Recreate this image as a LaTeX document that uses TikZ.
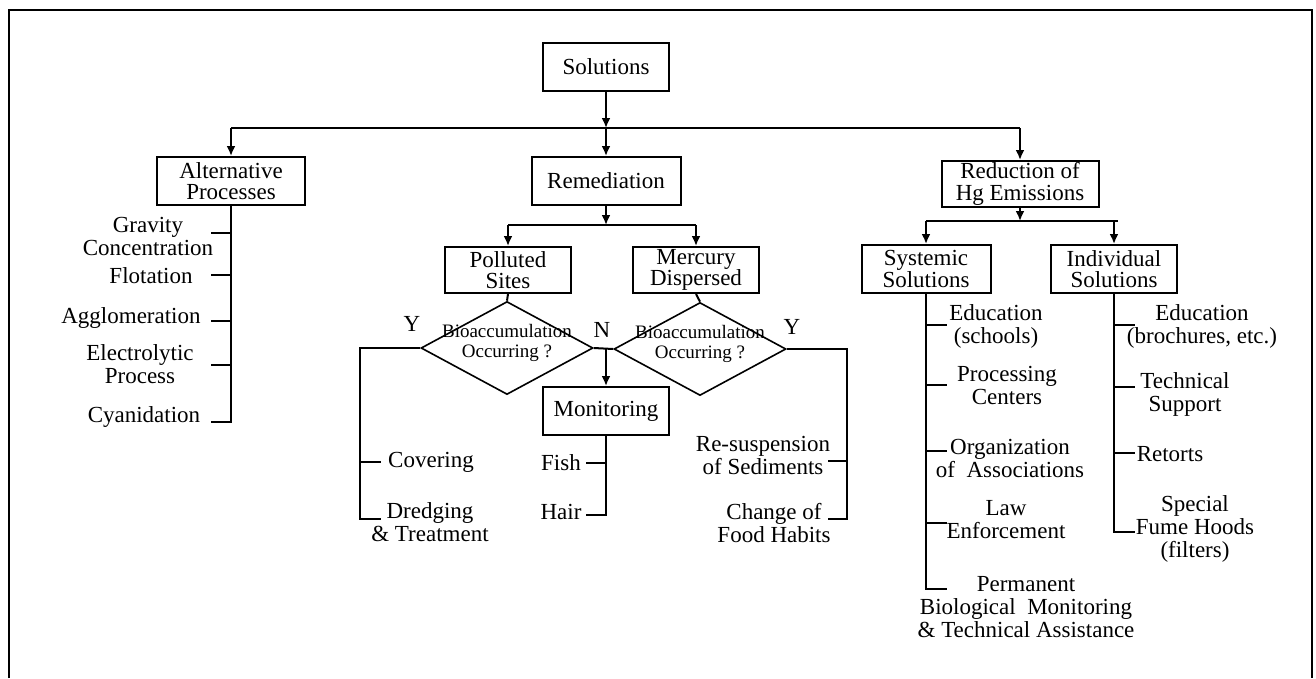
\documentclass[tikz,border=0pt]{standalone}
\usepackage{fontspec}
\setmainfont{Liberation Serif}
\newfontfamily\qfont{Liberation Serif}
\usetikzlibrary{shapes.geometric}
\usetikzlibrary{arrows.meta}

\begin{document}
\begin{tikzpicture}[x=1pt,y=-1pt,>={Latex[length=10pt,width=9pt]}]
    \tikzstyle{every path}=[line width=2pt]
    \tikzstyle{box}=[draw=black,line width=2pt,minimum height=48pt,inner sep=1.5pt,align=center,font=\fontsize{23}{21.5}\selectfont]
    \tikzstyle{leaf}=[align=center,inner sep=0pt,font=\fontsize{23}{23}\selectfont]
    \tikzstyle{choice}=[draw=black,line width=1.6pt,diamond,minimum width=172pt,minimum height=93pt,inner sep=0pt]
    \tikzstyle{qtext}=[align=center,inner sep=0pt,font=\qfont\fontsize{19}{19.5}\selectfont]

    \useasboundingbox (0,0) rectangle (1316,678);
    \draw[line width=2pt] (9,678) -- (9,10) -- (1312,10) -- (1312,678);

    % boxes
    \node[box,minimum width=126pt] (sol) at (606,67) {Solutions};
    \node[box,minimum width=148pt] (alt) at (231,181) {Alternative\\Processes};
    \node[box,minimum width=149pt] (rem) at (606,181) {Remediation};
    \node[box,minimum width=157pt,minimum height=46pt] (red) at (1020,184) {Reduction of\\Hg Emissions};
    \node[box,minimum width=126pt,minimum height=46pt] (pol) at (508,270) {Polluted\\Sites};
    \node[box,minimum width=126pt,minimum height=46pt] (mer) at (696,270) {Mercury\\Dispersed};
    \node[box,minimum width=129pt] (sys) at (926,269) {Systemic\\Solutions};
    \node[box,minimum width=126pt] (ind) at (1114,269) {Individual\\Solutions};
    \node[box,minimum width=126pt] (mon) at (606,411) {Monitoring};

    \node[choice] (dl) at (507,348) {};
    \node[choice] (dr) at (700,349) {};
    \node[qtext] (dltext) at ([yshift=5pt]dl) {Bioaccumulation\\Occurring ?};
    \node[qtext] (drtext) at ([yshift=5pt]dr) {Bioaccumulation\\Occurring ?};

    \node[leaf] (yleft) at (412,324) {Y};
    \node[leaf] (nmid) at (602,330) {N};
    \node[leaf] (yright) at (792,327) {Y};

    % top level
    \draw[->] (sol.south) -- (sol.south |- 0,128) coordinate (bus);
    \draw (alt.north |- bus) -- (red.north |- bus);
    \draw[->] (alt.north |- bus) -- (alt.north);
    \draw[->] (bus) -- (rem.north);
    \draw[->] (red.north |- bus) -- (red.north);

    \draw[->] (rem.south) -- (rem.south |- 0,225) coordinate (mbus);
    \draw (pol.north |- mbus) -- (mer.north |- mbus);
    \draw[->] (pol.north |- mbus) -- (pol.north);
    \draw[->] (mer.north |- mbus) -- (mer.north);

    \draw[->] (red.south) -- (red.south |- 0,221) coordinate (rbus);
    \draw (sys.north |- rbus) -- ([xshift=4pt]ind.north |- rbus);
    \draw[->] (sys.north |- rbus) -- (sys.north);
    \draw[->] (ind.north |- rbus) -- (ind.north);

    % decisions
    \draw (pol.south) -- (dl.north);
    \draw (mer.south) -- (dr.north);
    \draw (dl.east) -- (dr.west);
    \draw[->] (mon.north |- dl.east) -- (mon.north);
    \draw (dl.west) -- ++(-60,0) coordinate (yl) -- (yl |- 0,519) -- ++(21,0);
    \draw (yl |- 0,462) -- ++(21,0);
    \draw (dr.east) -- ++(60,0) coordinate (yr) -- (yr |- 0,519) -- ++(-19,0);
    \draw (yr |- 0,461) -- ++(-19,0);
    \draw (mon.south) -- (mon.south |- 0,515) -- ++(-20,0);
    \draw (mon.south |- 0,463) -- ++(-20,0);

    % combs
    \draw (alt.south) -- (alt.south |- 0,422) -- ++(-20,0);
    \foreach \ty in {233,275,321,365}
      \draw (alt.south |- 0,\ty) -- ++(-20,0);
    \draw (sys.south) -- (sys.south |- 0,589) -- ++(21,0);
    \foreach \ty in {325,385,451,523}
      \draw (sys.south |- 0,\ty) -- ++(21,0);
    \draw (ind.south) -- (ind.south |- 0,532) -- ++(21,0);
    \foreach \ty in {325,387,453}
      \draw (ind.south |- 0,\ty) -- ++(21,0);

    % leaves
    \node[leaf] (gravity) at (148,236) {Gravity\\Concentration};
    \node[leaf] (flot) at (151,276) {Flotation};
    \node[leaf] (agglo) at (131,318) {Agglomeration};
    \node[leaf] (electro) at (140,364) {Electrolytic\\Process};
    \node[leaf] (cyan) at (144,417) {Cyanidation};

    \node[leaf] (cover) at (431,462) {Covering};
    \node[leaf] (dredge) at (430,522) {Dredging\\\& Treatment};
    \node[leaf] (fish) at (561,463) {Fish};
    \node[leaf] (hair) at (561,512) {Hair};
    \node[leaf] (resusp) at (763,455) {Re-suspension\\of Sediments};
    \node[leaf] (food) at (774,523) {Change of\\Food Habits};

    \node[leaf] (edusys) at (996,326) {Education\\(schools)};
    \node[leaf] (proc) at (1007,385) {Processing\\Centers};
    \node[leaf] (org) at (1010,458) {Organization\\of~~Associations};
    \node[leaf] (law) at (1006,520) {Law\\Enforcement};
    \node[leaf] (perm) at (1026,607) {Permanent\\Biological~~Monitoring\\\& Technical Assistance};

    \node[leaf] (eduind) at (1202,326) {Education\\(brochures, etc.)};
    \node[leaf] (tech) at (1185,394) {Technical\\Support};
    \node[leaf] (retorts) at (1170,454) {Retorts};
    \node[leaf] (fume) at (1195,529) {Special\\Fume Hoods\\(filters)};
\end{tikzpicture}
\end{document}
